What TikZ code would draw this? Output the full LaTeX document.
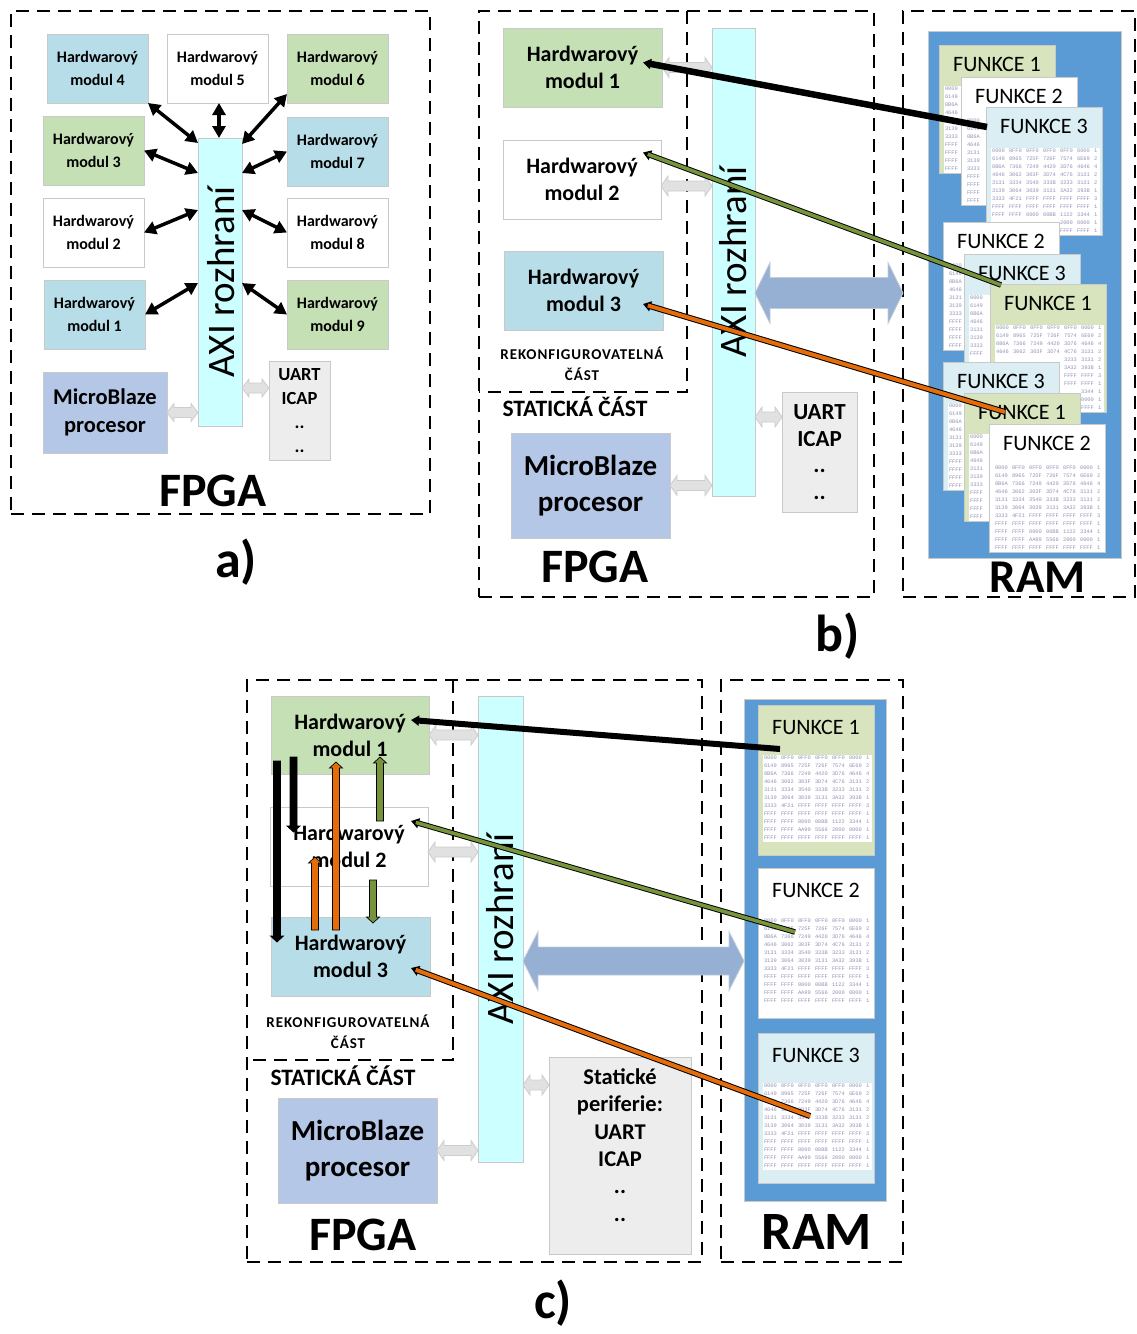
\documentclass[tikz,border=0pt]{standalone}
\usepackage{fontspec}
\setmainfont{Carlito}
\newfontfamily\hexmono{Liberation Mono}
\usetikzlibrary{arrows.meta,calc}

\definecolor{modgreen}{HTML}{C5E0B4}
\definecolor{modblue}{HTML}{B7DDE8}
\definecolor{boxgray}{HTML}{C9C9C9}
\definecolor{axicyan}{HTML}{CCFFFF}
\definecolor{mbblue}{HTML}{B4C7E7}
\definecolor{periph}{HTML}{EDEDED}
\definecolor{cardgreen}{HTML}{D7E4BD}
\definecolor{cardblue}{HTML}{DAEEF3}
\definecolor{ramblue}{HTML}{5B9BD5}
\definecolor{busblue}{HTML}{95B0D2}
\definecolor{busedge}{HTML}{C3CCDA}
\definecolor{linkgray}{HTML}{E1E1E1}
\definecolor{linkedge}{HTML}{CDCDCD}
\definecolor{olive}{HTML}{77933C}
\definecolor{pumpkin}{HTML}{E46C0A}
\definecolor{hexink}{HTML}{9494BA}

\newcommand\fs[2]{\fontsize{#1}{#2}\selectfont}

% rectangle node given by its pixel corners
\newcommand\boxat[7]{%
  \pgfmathsetmacro\bcx{(#2+#4)/2}\pgfmathsetmacro\bcy{(#3+#5)/2}%
  \pgfmathsetmacro\bww{#4-#2}\pgfmathsetmacro\bhh{#5-#3}%
  \node[#6, minimum width=\bww pt, minimum height=\bhh pt] (#1) at (\bcx,\bcy) {#7};}

% memory dump words shown on the function cards (one braced group per row)
\newcommand\hexrows{{0000,0FF0,0FF0,0FF0,0FF0,0000,1},{6149,8965,725F,726F,7574,6E69,2},{0B6A,7366,7249,4420,3D76,4646,4},{4646,3062,303F,3D74,4C76,3131,2},{3131,3334,3540,333B,3233,3131,2},{3139,3064,3039,3131,3A32,393B,1},{3333,4F21,FFFF,FFFF,FFFF,FFFF,3},{FFFF,FFFF,FFFF,FFFF,FFFF,FFFF,1},{FFFF,FFFF,0000,00BB,1122,3344,1},{FFFF,FFFF,AA99,5566,2000,0000,1},{FFFF,FFFF,FFFF,FFFF,FFFF,FFFF,1}}

% dump words: name, x0, y0, first row, last row, first column, last column
\newcommand\hexcells[7]{%
  \foreach \hexline [count=\hk] in \hexrows {
    \ifnum\hk<#4\relax\else\ifnum\hk>#5\relax\else
      \foreach \grp [count=\gk] in \hexline {
        \ifnum\gk<#6\relax\else\ifnum\gk>#7\relax\else
          \node[hextext, anchor=north west] (#1-\hk-\gk) at ({#2+1+17*(\gk-1)}, {#3+1+8*(\hk-1)}) {\grp};
        \fi\fi
      }
    \fi\fi
  }}

% function card: name, x, y, height, fill, title, title offset, dump offset
\newcommand\fcard[8]{%
  \node[cardbox, fill=#5, minimum width=116pt, minimum height=#4pt, anchor=north west] (#1) at (#2,#3) {};
  \node[cardtitle] (#1-t) at ($(#1.north)+(0,#7)$) {#6};
  \fill[white] (#2+5,#3+#8) rectangle (#2+114,#3+#8+87);}

% horizontal block arrow with two heads
\newcommand\wideArrow[6]{%
  \filldraw[#1] let \p1=(#2), \p2=(#3) in
   (\x1,\y1) -- (\x1+#6,\y1+#5) -- (\x1+#6,\y1+#4) -- (\x2-#6,\y1+#4) -- (\x2-#6,\y1+#5)
   -- (\x2,\y1) -- (\x2-#6,\y1-#5) -- (\x2-#6,\y1-#4) -- (\x1+#6,\y1-#4) -- (\x1+#6,\y1-#5) -- cycle;}

% vertical block arrow: x, tail y, tip y, fill
\newcommand\blockArrow[4]{%
  \pgfmathsetmacro\hb{#3-6*sign(#3-#2)}%
  \filldraw[fill=#4, draw=black, line width=0.7pt] (#1-3.5,#2) -- (#1-3.5,\hb) -- (#1-6.5,\hb)
    -- (#1,#3) -- (#1+6.5,\hb) -- (#1+3.5,\hb) -- (#1+3.5,#2) -- cycle;}

\tikzset{
  every node/.style={inner sep=0pt, outer sep=0pt},
  hwA/.style={draw=boxgray, line width=0.8pt, align=center, font=\bfseries\fs{16}{23}},
  hwB/.style={draw=boxgray, line width=0.8pt, align=center, font=\bfseries\fs{22}{27}},
  bar/.style={draw=boxgray, line width=0.8pt, fill=axicyan},
  bartext/.style={rotate=90, font=\fs{39}{39}},
  mbA/.style={draw=boxgray, line width=0.8pt, fill=mbblue, align=center, font=\bfseries\fs{22.5}{28}},
  mbB/.style={draw=boxgray, line width=0.8pt, fill=mbblue, align=center, font=\bfseries\fs{29}{36.5}},
  perbox/.style={draw=boxgray, line width=0.8pt, fill=periph},
  perA/.style={perbox, align=center, font=\bfseries\fs{18.5}{24}},
  perB/.style={perbox, align=center, font=\bfseries\fs{23}{26.5}},
  pertext/.style={align=center, font=\bfseries\fs{22.5}{27.3}},
  fpga/.style={font=\bfseries\fs{48}{48}},
  ramlabB/.style={font=\bfseries\fs{47}{47}},
  ramlabC/.style={font=\bfseries\fs{54}{54}},
  panel/.style={font=\bfseries\fs{52}{52}},
  rek/.style={align=center, font=\bfseries\fs{15}{21}\addfontfeature{LetterSpace=6}},
  stat/.style={font=\bfseries\fs{23.5}{23.5}},
  zone/.style={draw=black, line width=2.2pt, dash pattern=on 13pt off 8pt},
  zoneline/.style={draw=black, line width=2.2pt, dash pattern=on 13pt off 8pt},
  ramfill/.style={fill=ramblue, draw=boxgray, line width=0.8pt},
  cardbox/.style={draw=boxgray, line width=0.6pt},
  cardtitle/.style={font=\fs{22}{22}},
  hextext/.style={text=hexink, font=\hexmono\fs{5.4}{6}},
  bus/.style={fill=busblue, draw=busedge, line width=0.8pt},
  link/.style={fill=linkgray, draw=linkedge, line width=0.8pt},
  bidir/.style={line width=3.5pt, {Triangle[length=12pt,width=13pt]}-{Triangle[length=12pt,width=13pt]}},
  tipped/.style={{Triangle[length=8pt,width=10pt]}-},
}

\begin{document}
\begin{tikzpicture}[x=1pt, y=-1pt]
\useasboundingbox (0,0) rectangle (1136,1334);

% ================= a) =================
\boxat{aZone}{11}{11}{430}{514}{zone}{}
\boxat{aM4}{47}{34}{148}{103}{hwA, fill=modblue}{Hardwarový\\modul 4}
\boxat{aM5}{167}{34}{268}{103}{hwA, fill=white}{Hardwarový\\modul 5}
\boxat{aM6}{287}{34}{388}{103}{hwA, fill=modgreen}{Hardwarový\\modul 6}
\boxat{aM3}{43}{116}{144}{185}{hwA, fill=modgreen}{Hardwarový\\modul 3}
\boxat{aM7}{287}{117}{388}{186}{hwA, fill=modblue}{Hardwarový\\modul 7}
\boxat{aM2}{43}{198}{144}{267}{hwA, fill=white}{Hardwarový\\modul 2}
\boxat{aM8}{287}{198}{388}{267}{hwA, fill=white}{Hardwarový\\modul 8}
\boxat{aM1}{44}{280}{145}{349}{hwA, fill=modblue}{Hardwarový\\modul 1}
\boxat{aM9}{287}{280}{388}{349}{hwA, fill=modgreen}{Hardwarový\\modul 9}
\boxat{aAXI}{198}{138}{242}{426}{bar}{}
\node[bartext] (aAXIt) at ($(aAXI.center)+(1,0)$) {AXI rozhraní};
\boxat{aMB}{43}{372}{167}{453}{mbA}{MicroBlaze\\procesor}
\boxat{aPer}{269}{361}{330}{460}{perA}{UART\\ICAP\\..\\..}

\draw[bidir] (aM4.south east) -- ([yshift=-5pt]aAXI.north west);
\draw[bidir] ([xshift=1.5pt]aM5.south) -- ([xshift=1.5pt]aM5.south |- aAXI.north);
\draw[bidir] ([yshift=9pt]aM6.south west) -- ([yshift=-6pt]aAXI.north east);
\draw[bidir] (aM3.east) -- ([yshift=-35pt]aAXI.north west);
\draw[bidir] (aM7.west) -- ([yshift=-35pt]aAXI.north east);
\draw[bidir] (aM2.east) -- ([yshift=-72pt]aAXI.north west);
\draw[bidir] (aM8.west) -- ([yshift=-72pt]aAXI.north east);
\draw[bidir] (aM1.east) -- ([yshift=-145pt]aAXI.north west);
\draw[bidir] (aM9.west) -- ([yshift=-145pt]aAXI.north east);

\coordinate (ya) at (0,388);
\wideArrow{link}{aMB.east}{aAXI.west}{5pt}{9pt}{7pt}
\wideArrow{link}{aAXI.east |- ya}{aPer.west}{5pt}{9pt}{7pt}

\node[fpga] (aFPGA) at (213,491) {FPGA};
\node[panel] (aLab) at (236,562) {a)};

% ================= b) =================
\boxat{bZone}{479}{11}{874}{597}{zone}{}
\draw[zoneline] (687,11) -- (687,392) -- (479,392);
\boxat{bM1}{503}{28}{662}{107}{hwB, fill=modgreen}{Hardwarový\\modul 1}
\boxat{bM2}{503}{140}{661}{219}{hwB, fill=white}{Hardwarový\\modul 2}
\boxat{bM3}{504}{251}{663}{330}{hwB, fill=modblue}{Hardwarový\\modul 3}
\node[rek] (bRek) at (582,364) {REKONFIGUROVATELNÁ\\ČÁST};
\node[stat] (bStat) at (575,407) {STATICKÁ ČÁST};
\boxat{bAXI}{712}{28}{755}{496}{bar}{}
\node[bartext] (bAXIt) at (bAXI.center) {AXI rozhraní};
\boxat{bMB}{511}{433}{670}{538}{mbB}{MicroBlaze\\procesor}
\boxat{bPer}{782}{392}{857}{512}{perB}{UART\\ICAP\\..\\..}

\coordinate (yb2) at (0,186);
\coordinate (yb4) at (0,417);
\wideArrow{link}{bM1.east}{bAXI.west}{5pt}{10pt}{7pt}
\wideArrow{link}{bM2.east |- yb2}{bAXI.west}{5pt}{10pt}{7pt}
\wideArrow{link}{bMB.east}{bAXI.west}{5pt}{10pt}{7pt}
\wideArrow{link}{bAXI.east |- yb4}{bPer.west}{5pt}{10pt}{7pt}

\node[fpga] (bFPGA) at (595,567) {FPGA};

\boxat{bRAMz}{903}{11}{1135}{597}{zone}{}
\boxat{bRAM}{928}{31}{1121}{558}{ramfill}{}
% three stacks of reconfiguration images; only the uncovered words are set
\fcard{bF1a}{939}{45}{128}{cardgreen}{FUNKCE 1}{19}{41}
\hexcells{bF1a}{944}{86}{1}{11}{1}{1}
\fcard{bF2a}{961}{77}{128}{white}{FUNKCE 2}{19}{41}
\hexcells{bF2a}{966}{118}{1}{11}{1}{1}
\fcard{bF3a}{986}{107}{128}{cardblue}{FUNKCE 3}{19}{41}
\hexcells{bF3a}{991}{148}{1}{9}{1}{7}
\hexcells{bF3a}{991}{148}{10}{11}{5}{7}
\fcard{bF2b}{943}{222}{128}{white}{FUNKCE 2}{19}{41}
\hexcells{bF2b}{948}{263}{1}{11}{1}{1}
\fcard{bF3b}{964}{254}{128}{cardblue}{FUNKCE 3}{19}{41}
\hexcells{bF3b}{969}{295}{1}{8}{1}{1}
\fcard{bF1b}{990}{284}{128}{cardgreen}{FUNKCE 1}{19}{41}
\hexcells{bF1b}{995}{325}{1}{4}{1}{7}
\hexcells{bF1b}{995}{325}{5}{8}{5}{7}
\hexcells{bF1b}{995}{325}{9}{11}{6}{7}
\fcard{bF3c}{943}{362}{128}{cardblue}{FUNKCE 3}{19}{41}
\hexcells{bF3c}{948}{403}{1}{11}{1}{1}
\fcard{bF1c}{964}{393}{128}{cardgreen}{FUNKCE 1}{19}{41}
\hexcells{bF1c}{969}{434}{1}{11}{1}{1}
\fcard{bF2c}{989}{424}{128}{white}{FUNKCE 2}{19}{41}
\hexcells{bF2c}{994}{465}{1}{11}{1}{7}

\coordinate (yb) at (0,293);
\wideArrow{bus}{bAXI.east |- yb}{bRAMz.west}{15.5pt}{30.5pt}{15pt}

\node[ramlabB] (bRAMt) at (1038,577) {RAM};

\draw[line width=6.5pt, tipped] ($(bM1.east)+(-19,-5)$) -- ($(bF3a.north west)+(1,20)$);
\draw[line width=5.5pt, tipped] ($(bM2.east)+(-18,-27)$) -- ($(bF1b.north west)+(11,1)$);
\draw[olive, line width=3.6pt, shorten <=5pt] ($(bM2.east)+(-18,-27)$) -- ($(bF1b.north west)+(11,1)$);
\draw[line width=6pt, tipped] ($(bM3.east)+(-20,13.5)$) -- ($(bF1c.north west)+(41,19)$);
\draw[pumpkin, line width=4pt, shorten <=5pt] ($(bM3.east)+(-20,13.5)$) -- ($(bF1c.north west)+(41,19)$);

\node[panel] (bLab) at (838,636) {b)};

% ================= c) =================
\boxat{cZone}{247}{680}{702}{1262}{zone}{}
\draw[zoneline] (453,680) -- (453,1060) -- (247,1060);
\boxat{cM1}{271}{696}{429}{774}{hwB, fill=modgreen}{Hardwarový\\modul 1}
\boxat{cM2}{270}{807}{428}{886}{hwB, fill=white}{Hardwarový\\modul 2}
\boxat{cM3}{271}{917}{430}{996}{hwB, fill=modblue}{Hardwarový\\modul 3}
\node[rek] (cRek) at (348,1032) {REKONFIGUROVATELNÁ\\ČÁST};
\node[stat] (cStat) at (343,1076) {STATICKÁ ČÁST};
\boxat{cAXI}{478}{696}{523}{1162}{bar}{}
\node[bartext] (cAXIt) at (cAXI.center) {AXI rozhraní};
\boxat{cMB}{278}{1098}{437}{1203}{mbB}{MicroBlaze\\procesor}
\boxat{cPer}{549}{1057}{691}{1254}{perbox}{}
\node[pertext] (cPert) at (620,1145) {Statické\\periferie:\\UART\\ICAP\\..\\..};

% reconfiguration transfers between the modules
\blockArrow{277}{761}{942}{black}
\blockArrow{293.5}{757}{832}{black}
\blockArrow{315}{930}{857}{pumpkin}
\blockArrow{336}{930}{762}{pumpkin}
\blockArrow{380}{821}{757}{olive}
\blockArrow{373}{880}{923}{olive}

\coordinate (yc2) at (0,852);
\coordinate (yc4) at (0,1085);
\wideArrow{link}{cM1.east}{cAXI.west}{5pt}{10pt}{7pt}
\wideArrow{link}{cM2.east |- yc2}{cAXI.west}{5pt}{10pt}{7pt}
\wideArrow{link}{cMB.east}{cAXI.west}{5pt}{10pt}{7pt}
\wideArrow{link}{cAXI.east |- yc4}{cPer.west}{5pt}{10pt}{7pt}

\node[fpga] (cFPGA) at (363,1235) {FPGA};

\boxat{cRAMz}{721}{680}{903}{1262}{zone}{}
\boxat{cRAM}{744}{699}{886}{1201}{ramfill}{}
\fcard{cF1}{758}{705}{150}{cardgreen}{FUNKCE 1}{22}{50}
\hexcells{cF1}{763}{755}{1}{11}{1}{7}
\fcard{cF2}{758}{868}{150}{white}{FUNKCE 2}{22}{50}
\hexcells{cF2}{763}{918}{1}{11}{1}{7}
\fcard{cF3}{758}{1033}{150}{cardblue}{FUNKCE 3}{22}{50}
\hexcells{cF3}{763}{1083}{1}{11}{1}{7}

\coordinate (yc) at (0,961);
\wideArrow{bus}{cAXI.east |- yc}{cRAM.west}{14pt}{29.5pt}{15pt}

\node[ramlabC] (cRAMt) at (817,1232) {RAM};

\draw[line width=6pt, tipped] ($(cM1.east)+(-18,-15)$) -- ($(cF1.north west)+(22,44)$);
\draw[line width=5.5pt, tipped] ($(cM2.east)+(-17,-25.5)$) -- ($(cF2.north west)+(37,64)$);
\draw[olive, line width=3.6pt, shorten <=5pt] ($(cM2.east)+(-17,-25.5)$) -- ($(cF2.north west)+(37,64)$);
\draw[line width=6pt, tipped] ($(cM3.east)+(-19,11.5)$) -- ($(cF3.north west)+(52,83)$);
\draw[pumpkin, line width=4pt, shorten <=5pt] ($(cM3.east)+(-19,11.5)$) -- ($(cF3.north west)+(52,83)$);

\node[panel] (cLab) at (553,1303) {c)};
\end{tikzpicture}
\end{document}
